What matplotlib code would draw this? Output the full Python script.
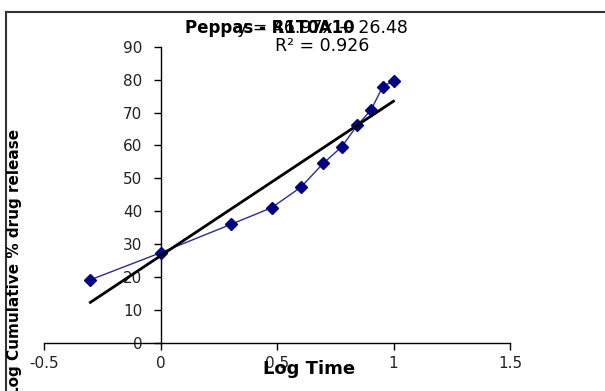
import matplotlib
matplotlib.use("Agg")
import matplotlib.pyplot as plt
from matplotlib.lines import Line2D

log_time = [-0.301, 0.0, 0.301, 0.477, 0.602, 0.699, 0.778, 0.845, 0.903, 0.954, 1.0]
release = [19.2, 27.4, 36.0, 41.1, 47.3, 54.6, 59.6, 66.2, 70.7, 77.9, 79.6]
fit_slope = 46.97
fit_intercept = 26.48
r_squared = 0.926
x_ticks = [-0.5, 0, 0.5, 1, 1.5]
x_tick_labels = ["-0.5", "0", "0.5", "1", "1.5"]
y_ticks = [0, 10, 20, 30, 40, 50, 60, 70, 80, 90]

plt.rcParams['font.family'] = ['DejaVu Sans']

W, H = 605, 391
fig = plt.figure(figsize=(W / 100, H / 100), dpi=100)
fig.patch.set_facecolor('white')

x0, x1 = 44, 510
y0, y1 = 343, 46.7
ax = fig.add_axes([x0 / W, 1 - y0 / H, (x1 - x0) / W, (y0 - y1) / H])
ax.set_xlim(-0.5, 1.5)
ax.set_ylim(0, 90)

ax.plot(log_time, release, color='#2b2b9a', lw=1.0, marker='D', ms=6,
        mfc='#000080', mec='#000080', zorder=3)
fx = [min(log_time), max(log_time)]
fy = [fit_slope * v + fit_intercept for v in fx]
ax.plot(fx, fy, color='black', lw=2.0, zorder=4)

for s in ['top', 'right']:
    ax.spines[s].set_visible(False)
ax.spines['left'].set_position(('data', 0))
ax.spines['bottom'].set_position(('data', 0))
for s in ['left', 'bottom']:
    ax.spines[s].set_linewidth(1.0)
    ax.spines[s].set_color('black')

ax.set_xticks(x_ticks)
ax.set_xticklabels(x_tick_labels)
ax.set_yticks(y_ticks)
ax.tick_params(axis='both', direction='out', length=5, width=1, labelsize=11,
               colors='black', labelcolor='#222222')
ax.tick_params(axis='x', pad=4)
ax.tick_params(axis='y', pad=8)

fig.text(270 / W, 1 - 28 / H, "Peppas - R1T0A10", ha='center', va='center',
         fontsize=12, fontweight='bold')
fig.text(322 / W, 1 - 28 / H, f"y = {fit_slope:.2f}x + {fit_intercept:.2f}",
         ha='center', va='center', fontsize=12.5)
fig.text(322 / W, 1 - 46 / H, f"R² = {r_squared:.3f}", ha='center', va='center',
         fontsize=12.5)
fig.text(309 / W, 1 - 369 / H, "Log Time", ha='center', va='center',
         fontsize=13, fontweight='bold')
fig.text(15 / W, 1 - 262 / H, "Log Cumulative % drug release", ha='center',
         va='center', rotation=90, fontsize=11, fontweight='bold')

fig.add_artist(Line2D([6 / W, 1.0], [1 - 12 / H, 1 - 12 / H],
                      transform=fig.transFigure, color='#333333', lw=1.5))
fig.add_artist(Line2D([6 / W, 6 / W], [0, 1 - 12 / H],
                      transform=fig.transFigure, color='#333333', lw=1.5))

fig.savefig('out.png', dpi=100, facecolor='white')
